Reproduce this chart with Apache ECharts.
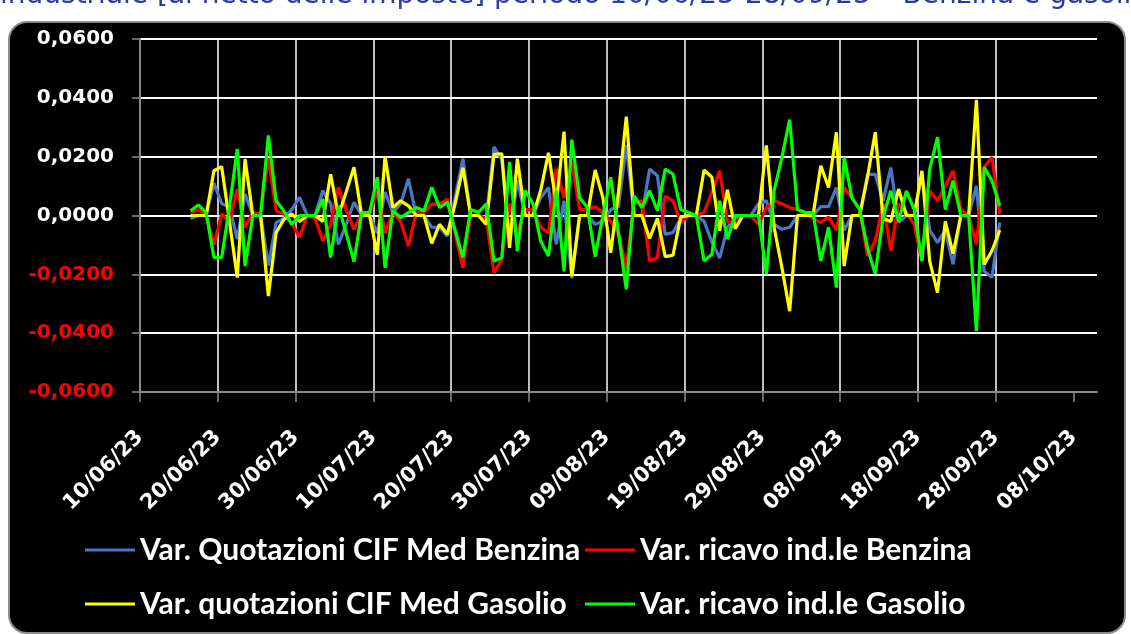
<!DOCTYPE html>
<html><head><meta charset="utf-8">
<script src="https://cdn.jsdelivr.net/npm/echarts@6/dist/echarts.min.js"></script>
<style>html,body{margin:0;padding:0;background:#fff;overflow:hidden}#c{width:1131px;height:634px}</style>
</head><body><div id="c"></div>
<script>
// ---- data ----
const titleText = 'industriale [al netto delle imposte] periodo 10/06/23-28/09/23 \u2013 Benzina e gasolio';
const axisStart = '2023-06-10';
const axisEnd = '2023-10-11';
const firstDate = '2023-06-16'; // daily values from 16/06/23 to 28/09/23
const yMin = -0.06, yMax = 0.06, yStep = 0.02;
const xStepDays = 10;
const seriesNames = [
  'Var. Quotazioni CIF Med Benzina',
  'Var. ricavo ind.le Benzina',
  'Var. quotazioni CIF Med Gasolio',
  'Var. ricavo ind.le Gasolio'
];
const quotBenzina = [
  -0.001, 0, 0, 0.011, 0.004, 0.003, -0.008, 0.0073, 0, 0,
  -0.017, -0.0024, -0.001, 0.002, 0.0062, 0, 0, 0.0085, 0.004, -0.0098,
  -0.003, 0.0045, 0, 0, -0.006, 0.008, 0.001, 0.004, 0.0125, 0,
  0, -0.004, -0.004, -0.007, 0.006, 0.0193, 0, 0, -0.001, 0.0233,
  0.019, -0.008, 0.012, 0, 0, 0.006, 0.0095, -0.0098, 0.005, -0.0213,
  0, 0, -0.003, -0.002, 0.002, 0.003, 0.024, 0, 0, 0.0158,
  0.0135, -0.0064, -0.0058, -0.001, 0, 0, -0.002, -0.009, -0.0145, -0.004,
  -0.001, 0, 0, 0.004, 0.005, -0.003, -0.0047, -0.004, 0, 0,
  0, 0.003, 0.003, 0.0095, -0.005, 0, 0, 0.014, 0.014, 0.005,
  0.0163, -0.0024, 0, 0, 0.014, -0.005, -0.0092, -0.005, -0.0166, 0,
  0, 0.0101, -0.0189, -0.0211, -0.0024
];
const ricavoBenzina = [
  0.001, 0.002, 0.0005, -0.010, 0.0005, -0.002, 0.009, -0.004, 0.001, 0.0005,
  0.0195, 0.0016, 0.0005, -0.0025, -0.0075, 0, -0.001, -0.0087, -0.003, 0.0096,
  0.002, -0.0047, 0.0005, 0.0005, 0.0085, -0.006, 0.001, -0.002, -0.0104, 0.001,
  0.001, 0.0039, 0.0039, 0.0056, -0.006, -0.0178, 0, 0, -0.001, -0.0195,
  -0.015, 0.004, -0.006, 0.002, 0.002, -0.004, -0.006, 0.0159, 0.006, 0.018,
  0.002, 0.002, 0.003, 0.001, -0.002, -0.006, -0.018, 0.004, 0.005, -0.0155,
  -0.0143, 0.0067, 0.005, -0.0024, 0, 0, 0.001, 0.008, 0.0152, -0.002,
  -0.003, 0, 0, -0.003, 0.0027, 0.005, 0.004, 0.0027, 0.002, 0.001,
  -0.001, -0.0024, -0.0005, -0.005, 0.0095, 0.006, 0.002, -0.0137, -0.0086, 0.004,
  -0.012, 0.004, 0.001, -0.003, -0.0155, 0.0084, 0.005, 0.01, 0.0152, 0.002,
  0, -0.0098, 0.0164, 0.0198, 0.0005
];
const quotGasolio = [
  0, 0, 0, 0.0152, 0.0166, -0.002, -0.0211, 0.0192, 0, 0,
  -0.0274, -0.0058, -0.0013, 0.0005, -0.002, 0, 0, -0.002, 0.014, 0,
  0.008, 0.0164, 0, 0, -0.0133, 0.0201, 0.0027, 0.005, 0.0033, 0,
  0, -0.0095, -0.003, -0.0064, 0.004, 0.0162, 0, 0, -0.003, 0.0208,
  0.021, -0.011, 0.0193, 0, 0, 0.0085, 0.0213, 0.004, 0.0285, -0.0207,
  0, 0, 0.0155, 0.006, -0.0127, 0.008, 0.0336, 0, 0, -0.0078,
  -0.001, -0.014, -0.0135, -0.0005, 0, 0, 0.0155, 0.013, -0.0052, 0.0087,
  -0.0045, 0, 0, 0, 0.0238, -0.004, -0.0177, -0.0325, 0, 0,
  0, 0.0169, 0.0095, 0.0283, -0.0172, 0, 0, 0.013, 0.0283, -0.001,
  -0.002, 0.009, 0, 0, 0.0152, -0.0155, -0.0262, -0.002, -0.013, 0,
  0, 0.0393, -0.0166, -0.012, -0.005
];
const ricavoGasolio = [
  0.0016, 0.0036, 0.001, -0.0143, -0.0143, 0.003, 0.0226, -0.0172, 0, 0,
  0.0272, 0.005, 0.0015, -0.003, 0, 0, 0, 0.0056, -0.0143, 0.0033,
  -0.006, -0.0157, 0.001, 0.001, 0.013, -0.0178, 0.0016, -0.0007, 0.001, 0.0027,
  0.0016, 0.0096, 0.0027, 0.0045, -0.005, -0.0143, 0.002, 0.001, 0.004, -0.0155,
  -0.0144, 0.0182, -0.0121, 0.0085, 0.004, -0.0087, -0.0138, 0.0085, -0.019, 0.0258,
  0.006, 0.0027, -0.014, 0, 0.013, -0.006, -0.0251, 0.0067, 0.0027, 0.0084,
  0.0016, 0.0158, 0.0141, 0.002, 0.001, 0, -0.0155, -0.0132, 0.005, -0.008,
  0, 0, 0, 0, -0.0199, 0.0084, 0.0198, 0.0326, 0.002, 0.001,
  0.001, -0.0155, -0.004, -0.0245, 0.0198, 0.006, 0.002, -0.011, -0.0198, -0.0007,
  0.0084, -0.002, 0.0084, 0.002, -0.0155, 0.0158, 0.0266, 0.002, 0.0118, 0,
  0, -0.0393, 0.0164, 0.0118, 0.0033
];
const seriesValues = [quotBenzina, ricavoBenzina, quotGasolio, ricavoGasolio];
const seriesColors = ['#4A76C6', '#FF0000', '#FFFF00', '#00FF00'];

// ---- helpers ----
const DAY = 86400000;
const t0 = Date.parse(axisStart);
const dayOf = s => Math.round((Date.parse(s) - t0) / DAY);
const pad = n => (n < 10 ? '0' : '') + n;
const fmtDay = v => { const d = new Date(t0 + v * DAY); return pad(d.getUTCDate()) + '/' + pad(d.getUTCMonth() + 1) + '/' + String(d.getUTCFullYear()).slice(2); };
const xMax = dayOf(axisEnd);
const xTickVals = []; for (let v = 0; v <= xMax; v += xStepDays) xTickVals.push(v);
const d0 = dayOf(firstDate);
// Excel date axis: each date is centred in its one-day slot
const toPoints = arr => arr.map((v, i) => [d0 + i + 0.5, v]);

const chart = echarts.init(document.getElementById('c'), null, { renderer: 'canvas' });
const legendFont = { color: '#fff', fontSize: 30, fontWeight: 'bold', fontFamily: "Lato, 'Liberation Sans', sans-serif" };
const legendPos = [[85, 535], [585, 535], [85, 589], [585, 589]];
const axisFont = "'DejaVu Sans', sans-serif";

chart.setOption({
  backgroundColor: '#ffffff',
  animation: false,
  graphic: [
    { type: 'rect', z: -10, silent: true, shape: { x: 9, y: 22, width: 1116, height: 611, r: 18 }, style: { fill: '#000', stroke: '#8c8c8c', lineWidth: 2 } },
    { type: 'text', z: -5, silent: true, left: 0, top: -18, style: { text: titleText, fill: '#2B3A9C', font: "28px 'DejaVu Sans', sans-serif" } }
  ],
  grid: { left: 140, right: 34, top: 39, bottom: 242, containLabel: false },
  xAxis: {
    type: 'value', min: 0, max: xMax, interval: xStepDays,
    axisLine: { show: true, onZero: false, lineStyle: { color: '#8a8a8a', width: 2 } },
    axisTick: { show: true, length: 10, customValues: xTickVals, lineStyle: { color: '#8a8a8a', width: 1.5 } },
    axisLabel: { customValues: xTickVals, rotate: 45, margin: 42, color: '#fff', fontSize: 21, fontWeight: 'bold', fontFamily: axisFont, formatter: v => fmtDay(v) },
    splitLine: { show: true, showMinLine: false, showMaxLine: false, lineStyle: { color: '#fff', width: 1.5 } }
  },
  yAxis: {
    type: 'value', min: yMin, max: yMax, interval: yStep,
    axisLine: { show: true, lineStyle: { color: '#8a8a8a', width: 2 } },
    axisTick: { show: true, length: 8, lineStyle: { color: '#8a8a8a', width: 1.5 } },
    axisLabel: { margin: 26, fontSize: 20, fontWeight: 'bold', fontFamily: axisFont,
      color: v => (v < -1e-9 ? '#FF0000' : '#FFFFFF'),
      formatter: v => v.toFixed(4).replace('.', ',') },
    splitLine: { show: true, showMinLine: false, lineStyle: { color: '#fff', width: 2 } }
  },
  legend: seriesNames.map((n, i) => ({
    data: [n], left: legendPos[i][0], top: legendPos[i][1], padding: 0,
    icon: 'rect', itemWidth: 50, itemHeight: 3, textStyle: legendFont
  })),
  series: seriesNames.map((n, i) => ({
    name: n, type: 'line', data: toPoints(seriesValues[i]), showSymbol: false, symbol: 'none',
    color: seriesColors[i], lineStyle: { width: 3.2, color: seriesColors[i] }, z: 2 + i
  }))
});
</script></body></html>
